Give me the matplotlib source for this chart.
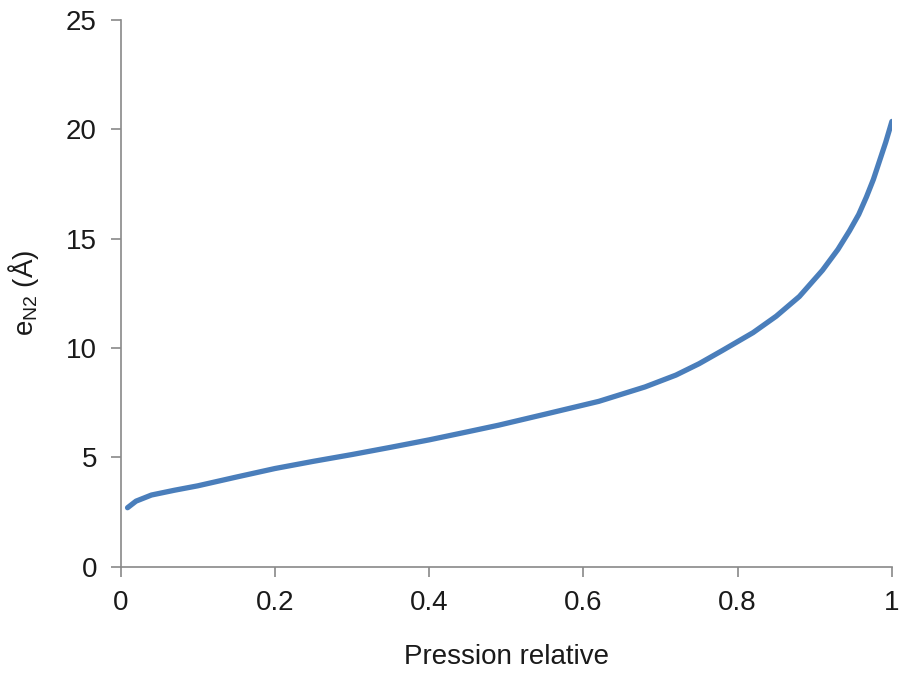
"""Epaisseur de la couche adsorbee de N2 en fonction de la pression relative"""

import matplotlib
matplotlib.use('Agg')
import matplotlib.pyplot as plt

plt.rcParams['font.family'] = ['Liberation Sans', 'DejaVu Sans']
plt.rcParams['mathtext.default'] = 'regular'

# Data
pression = [0.009, 0.02, 0.04, 0.07, 0.10, 0.15, 0.20, 0.25, 0.30, 0.35, 0.40,
            0.45, 0.49, 0.55, 0.62, 0.68, 0.72, 0.75, 0.78, 0.82, 0.85, 0.88,
            0.91, 0.93, 0.945, 0.957, 0.967, 0.976, 0.984, 0.992, 1.0]
epaisseur = [2.70, 3.00, 3.28, 3.50, 3.70, 4.10, 4.49, 4.82, 5.13, 5.46, 5.80,
             6.17, 6.47, 6.97, 7.56, 8.22, 8.76, 9.28, 9.88, 10.70, 11.45, 12.35,
             13.55, 14.50, 15.35, 16.10, 16.90, 17.70, 18.55, 19.40, 20.35]

x_ticks = [0, 0.2, 0.4, 0.6, 0.8, 1]
x_tick_labels = ['0', '0.2', '0.4', '0.6', '0.8', '1']
y_ticks = [0, 5, 10, 15, 20, 25]

axis_grey = '#898989'

fig = plt.figure(figsize=(9, 6.78), dpi=100)
ax = fig.add_axes([0.134, 0.164, 0.857, 0.807])

ax.plot(pression, epaisseur, color='#4A7EBB', linewidth=3.8,
        solid_capstyle='round', solid_joinstyle='round')

ax.set_xlim(0, 1)
ax.set_ylim(0, 25)
ax.set_xticks(x_ticks)
ax.set_xticklabels(x_tick_labels)
ax.set_yticks(y_ticks)

for side in ['top', 'right']:
    ax.spines[side].set_visible(False)
for side in ['left', 'bottom']:
    ax.spines[side].set_color(axis_grey)
    ax.spines[side].set_linewidth(1.2)

ax.tick_params(axis='both', direction='out', length=7, width=1.2,
               color=axis_grey, labelsize=20, labelcolor='#1a1a1a')
ax.tick_params(axis='x', pad=10)
ax.tick_params(axis='y', pad=10)

ax.set_xlabel('Pression relative', fontsize=20, color='#1a1a1a', labelpad=20)
ax.set_ylabel(r'e$_{N2}$ (Å)', fontsize=20, color='#1a1a1a', labelpad=18)

fig.savefig('out.png', dpi=100)
